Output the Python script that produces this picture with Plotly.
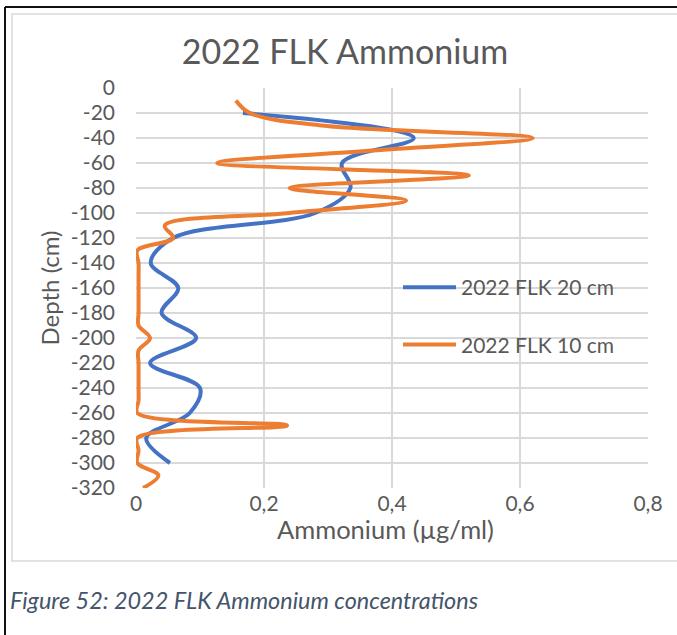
import plotly.graph_objects as go

# Ammonium profile sampled every 20 cm
depth_20cm = [-20, -40, -60, -80, -100, -120, -140, -160, -180, -200,
              -220, -240, -260, -280, -300]
nh4_20cm = [0.167, 0.434, 0.322, 0.335, 0.28, 0.058, 0.023, 0.066, 0.04, 0.094,
            0.022, 0.10, 0.084, 0.016, 0.053]

# Ammonium profile sampled every 10 cm
depth_10cm = [-10, -20, -30, -40, -50, -60, -70, -80, -90, -100,
              -110, -120, -130, -140, -150, -160, -170, -180, -190, -200,
              -210, -220, -230, -240, -250, -260, -270, -280, -290, -300,
              -310, -320]
nh4_10cm = [0.156, 0.178, 0.29, 0.62, 0.37, 0.127, 0.52, 0.24, 0.422, 0.24,
            0.045, 0.058, 0.002, 0.004, 0.004, 0.004, 0.004, 0.004, 0.004, 0.022,
            0.004, 0.004, 0.004, 0.004, 0.004, 0.002, 0.236, 0.002, 0.004, 0.002,
            0.035, 0.011]

series_names = ["2022 FLK 20 cm", "2022 FLK 10 cm"]
series_colors = ["#4472C4", "#ED7D31"]

x_tick_vals = [0, 0.2, 0.4, 0.6, 0.8]
x_tick_text = ["0", "0,2", "0,4", "0,6", "0,8"]
y_tick_vals = list(range(0, -340, -20))
y_tick_text = [str(v) for v in y_tick_vals]

TEXT = "#595959"
GRID = "#D9D9D9"
FONT = "Lato"

W, H = 677, 635
L, R, T, B = 136, 29, 88, 147
PW, PH = W - L - R, H - T - B


def px_x(px):
    return (px - L) / PW


def px_y(py):
    return (H - B - py) / PH


fig = go.Figure()
for name, color, xs, ys in [
    (series_names[0], series_colors[0], nh4_20cm, depth_20cm),
    (series_names[1], series_colors[1], nh4_10cm, depth_10cm),
]:
    fig.add_trace(go.Scatter(
        x=xs, y=ys, mode="lines", name=name, legendgroup=name,
        line=dict(color=color, width=4, shape="spline", smoothing=1.0),
    ))

axis_common = dict(
    showgrid=True, gridcolor=GRID, gridwidth=1.5,
    zeroline=False, showline=False, ticks="",
    tickfont=dict(family=FONT, size=21, color=TEXT),
    fixedrange=True,
)

fig.update_layout(
    width=W, height=H,
    margin=dict(l=L, r=R, t=T, b=B, autoexpand=False),
    paper_bgcolor="white", plot_bgcolor="white",
    font=dict(family=FONT, color=TEXT, size=21),
    title=dict(
        text="2022 FLK Ammonium",
        font=dict(family=FONT, size=34, color=TEXT),
        xref="container", x=345 / W, xanchor="center",
        yref="container", y=1 - 52 / H, yanchor="middle",
    ),
    xaxis=dict(
        range=[0, 0.8], tickvals=x_tick_vals, ticktext=x_tick_text,
        ticklabelstandoff=1,
        **axis_common,
    ),
    yaxis=dict(
        range=[-320, 0], tickvals=y_tick_vals, ticktext=y_tick_text,
        title=dict(text="Depth (cm)", font=dict(family=FONT, size=24, color=TEXT), standoff=4),
        ticklabelstandoff=20,
        **axis_common,
    ),
    showlegend=True,
    legend=dict(
        x=px_x(398), y=px_y(267), xanchor="left", yanchor="top",
        font=dict(family=FONT, size=21, color=TEXT),
        tracegroupgap=27, itemwidth=53, bgcolor="rgba(0,0,0,0)",
    ),
    shapes=[
        # chart area frame
        dict(type="rect", xref="paper", yref="paper",
             x0=px_x(12), x1=px_x(678), y0=px_y(561), y1=px_y(14),
             line=dict(color=GRID, width=1.5), layer="below"),
        # page border lines
        dict(type="line", xref="paper", yref="paper",
             x0=px_x(5), x1=px_x(5), y0=px_y(7), y1=px_y(640),
             line=dict(color="#111111", width=2)),
        dict(type="line", xref="paper", yref="paper",
             x0=px_x(5), x1=px_x(680), y0=px_y(7), y1=px_y(7),
             line=dict(color="#111111", width=2)),
    ],
    annotations=[
        # x-axis title, set tight under the tick labels
        dict(text="Ammonium (µg/ml)",
             xref="paper", yref="paper", x=px_x(385), y=px_y(529),
             xanchor="center", yanchor="middle", showarrow=False,
             font=dict(family=FONT, size=25.5, color=TEXT)),
        dict(text="Figure 52: 2022 FLK Ammonium concentrations",
             xref="paper", yref="paper", x=px_x(8), y=px_y(600),
             xanchor="left", yanchor="middle", showarrow=False,
             font=dict(family=FONT, size=23.4, color="#44546A", style="italic")),
    ],
)

fig.write_html("out.html")
